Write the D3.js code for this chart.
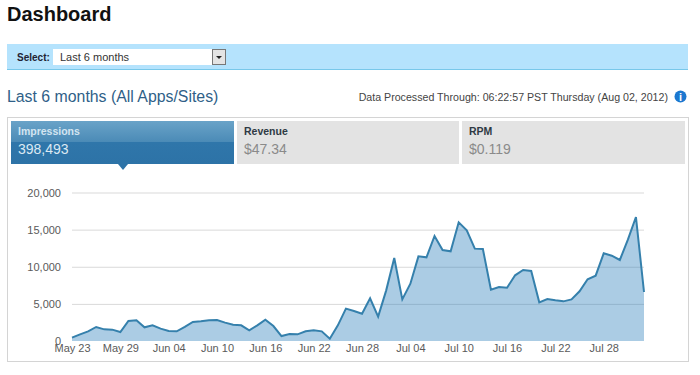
<!DOCTYPE html>
<html>
<head>
<meta charset="utf-8">
<script src="https://cdn.jsdelivr.net/npm/d3@7"></script>
<style>
  html, body { margin: 0; padding: 0; background: #fff; overflow: hidden; }
  svg { display: block; font-family: "Liberation Sans", Arial, sans-serif; }
  .tick text { font-size: 11px; fill: #5a5a5a; }
  .grid line { stroke: #d9d9d9; }
</style>
</head>
<body>
<svg width="700" height="375"></svg>
<script>
  // daily impressions, May 23 -> Aug 02
  const impressions = [
    450, 900, 1300, 1890, 1570, 1530, 1210, 2700, 2780, 1840, 2110, 1660,
    1350, 1300, 1890, 2560, 2650, 2780, 2830, 2470, 2200, 2110, 1440, 2110,
    2870, 2020, 670, 940, 900, 1300, 1440, 1300, 310, 2110, 4360, 4040,
    3680, 5750, 3280, 6820, 11180, 5610, 7720, 11400, 11270, 14140, 12260, 12080,
    15980, 14900, 12440, 12390, 6910, 7270, 7180, 8850, 9560, 9430, 5210, 5660,
    5480, 5340, 5610, 6690, 8310, 8800, 11810, 11490, 10910, 13650, 16700, 6600
  ];
  const yTicks = [0, 5000, 10000, 15000, 20000];
  const xTickLabels = ['May 23', 'May 29', 'Jun 04', 'Jun 10', 'Jun 16', 'Jun 22',
    'Jun 28', 'Jul 04', 'Jul 10', 'Jul 16', 'Jul 22', 'Jul 28'];
  const tileNames = ['Impressions', 'Revenue', 'RPM'];
  const tileValues = ['398,493', '$47.34', '$0.119'];

  const svg = d3.select('svg');

  const parseDay = d3.timeParse('%b %d %Y');
  const firstDay = parseDay('May 23 2012');
  const days = impressions.map((v, i) => d3.timeDay.offset(firstDay, i));
  const data = days.map((day, i) => ({ day: day, value: impressions[i] }));

  const xScale = d3.scaleTime()
    .domain(d3.extent(days))
    .range([72, 644]);

  const yScale = d3.scaleLinear()
    .domain([0, 20000])
    .range([341, 192.5]);

  // page furniture
  svg.append('text')
    .attr('x', 7).attr('y', 21)
    .attr('font-size', 20).attr('font-weight', 'bold').attr('fill', '#111')
    .text('Dashboard');

  svg.append('rect')
    .attr('x', 7).attr('y', 44).attr('width', 681).attr('height', 25.5)
    .attr('fill', '#b5e3fd');
  svg.append('line')
    .attr('x1', 7).attr('x2', 688).attr('y1', 69.5).attr('y2', 69.5)
    .attr('stroke', '#78c8ea');

  svg.append('text')
    .attr('x', 17).attr('y', 61)
    .attr('font-size', 10).attr('font-weight', 'bold').attr('fill', '#223')
    .text('Select:');
  svg.append('rect')
    .attr('x', 53).attr('y', 49).attr('width', 173).attr('height', 16)
    .attr('fill', '#fff');
  svg.append('text')
    .attr('x', 60).attr('y', 61)
    .attr('font-size', 11).attr('fill', '#333')
    .text('Last 6 months');
  svg.append('rect')
    .attr('x', 212.5).attr('y', 49.5).attr('width', 13).attr('height', 15)
    .attr('fill', '#e4e4e4').attr('stroke', '#777');
  svg.append('path')
    .attr('d', 'M216,56h6l-3,3z')
    .attr('fill', '#222');

  svg.append('text')
    .attr('x', 7).attr('y', 102)
    .attr('font-size', 15.85).attr('fill', '#2f5f88')
    .text('Last 6 months (All Apps/Sites)');

  svg.append('text')
    .attr('x', 668).attr('y', 101)
    .attr('text-anchor', 'end')
    .attr('font-size', 10.65).attr('fill', '#444')
    .text('Data Processed Through: 06:22:57 PST Thursday (Aug 02, 2012)');

  svg.append('circle')
    .attr('cx', 680.5).attr('cy', 96.5).attr('r', 6)
    .attr('fill', '#1c78d0');
  svg.append('text')
    .attr('x', 680.5).attr('y', 101)
    .attr('text-anchor', 'middle')
    .attr('font-size', 11).attr('font-weight', 'bold').attr('fill', '#fff')
    .text('i');

  svg.append('rect')
    .attr('x', 7.5).attr('y', 117.5).attr('width', 681).attr('height', 244)
    .attr('fill', '#fff').attr('stroke', '#d4d4d4');

  // tiles on top of the chart
  const defs = svg.append('defs');
  const grad = defs.append('linearGradient')
    .attr('id', 'tileGrad')
    .attr('x1', 0).attr('x2', 0).attr('y1', 0).attr('y2', 1);
  grad.append('stop').attr('offset', '0').attr('stop-color', '#6aa3c8');
  grad.append('stop').attr('offset', '0.5').attr('stop-color', '#4a8ab6');
  grad.append('stop').attr('offset', '0.5').attr('stop-color', '#2f76aa');
  grad.append('stop').attr('offset', '1').attr('stop-color', '#2d73a7');

  const tileX = [11, 237, 462];
  const tileW = [223, 222, 223];

  const tiles = svg.selectAll('.tile')
    .data(tileNames)
    .enter().append('g')
    .attr('class', 'tile')
    .attr('transform', (d, i) => `translate(${tileX[i]},121)`);

  tiles.append('rect')
    .attr('width', (d, i) => tileW[i])
    .attr('height', 43)
    .attr('fill', (d, i) => i === 0 ? 'url(#tileGrad)' : '#e3e3e3');

  tiles.append('text')
    .attr('x', 7).attr('y', 14)
    .attr('font-size', 10.5).attr('font-weight', 'bold')
    .attr('fill', (d, i) => i === 0 ? '#d3e5f1' : '#2f3a44')
    .text(d => d);

  tiles.append('text')
    .attr('x', 7).attr('y', 33)
    .attr('font-size', 14)
    .attr('fill', (d, i) => i === 0 ? '#dce9f3' : '#8a8a8a')
    .text((d, i) => tileValues[i]);

  svg.append('path')
    .attr('d', 'M118,164h10l-5,6z')
    .attr('fill', '#2d73a7');

  // axes
  const yAxis = d3.axisLeft(yScale)
    .tickValues(yTicks)
    .tickFormat(d3.format(','))
    .tickSize(-(xScale.range()[1] - xScale.range()[0]))
    .tickPadding(11);

  const yAxisG = svg.append('g')
    .attr('class', 'grid')
    .attr('transform', 'translate(72,0)')
    .call(yAxis);
  yAxisG.select('.domain').remove();
  yAxisG.selectAll('.tick').filter(d => d === 0).select('line').remove();

  const xAxis = d3.axisBottom(xScale)
    .tickValues(xTickLabels.map(s => parseDay(s + ' 2012')))
    .tickFormat(d3.timeFormat('%b %d'))
    .tickSize(0)
    .tickPadding(3);

  const xAxisG = svg.append('g')
    .attr('transform', 'translate(0,341)')
    .call(xAxis);
  xAxisG.select('.domain').remove();

  // area + line
  const areaGen = d3.area()
    .x(d => xScale(d.day))
    .y0(yScale(0))
    .y1(d => yScale(d.value));

  const lineGen = d3.line()
    .x(d => xScale(d.day))
    .y(d => yScale(d.value));

  svg.append('path')
    .attr('d', areaGen(data))
    .attr('fill', '#2e7fbb')
    .attr('fill-opacity', 0.4);

  svg.append('path')
    .attr('d', lineGen(data))
    .attr('fill', 'none')
    .attr('stroke', '#3580ac')
    .attr('stroke-width', 2);
</script>
</body>
</html>
